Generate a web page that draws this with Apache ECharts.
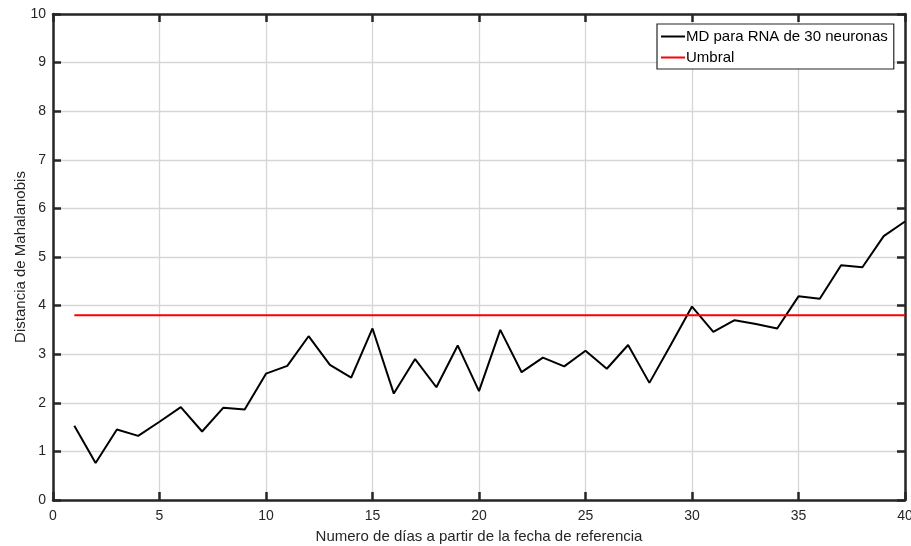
<!DOCTYPE html>
<html>
<head>
<meta charset="utf-8">
<script src="https://cdn.jsdelivr.net/npm/echarts@6/dist/echarts.min.js"></script>
<style>
  html, body { margin: 0; padding: 0; background: #ffffff; }
  #chart { width: 911px; height: 546px; }
</style>
</head>
<body>
<div id="chart"></div>
<script>
// Days since reference date
const days = [1,2,3,4,5,6,7,8,9,10,11,12,13,14,15,16,17,18,19,20,
              21,22,23,24,25,26,27,28,29,30,31,32,33,34,35,36,37,38,39,40];
// Mahalanobis distance, ANN with 30 neurons
const mdValues = [1.53,0.76,1.45,1.32,1.61,1.91,1.41,1.90,1.86,2.60,
                  2.76,3.37,2.78,2.52,3.53,2.19,2.90,2.32,3.18,2.24,
                  3.50,2.63,2.93,2.75,3.07,2.70,3.19,2.41,3.19,3.98,
                  3.46,3.70,3.62,3.53,4.19,4.14,4.83,4.79,5.43,5.73];
// Threshold level
const threshold = 3.80;

const seriesNames = ['MD para RNA de 30 neuronas', 'Umbral'];
const xAxisTitle = 'Numero de días a partir de la fecha de referencia';
const yAxisTitle = 'Distancia de Mahalanobis';

const axisColor = '#262626';
const fontFamily = 'Arial, "Liberation Sans", Helvetica, sans-serif';

const mdData = days.map((d, i) => [d, mdValues[i]]);
const thresholdData = days.map(d => [d, threshold]);

const chart = echarts.init(document.getElementById('chart'), null, { renderer: 'canvas' });

const frameAxisLine = { show: true, onZero: false, lineStyle: { color: axisColor, width: 2.5 } };
const frameTick = { show: true, inside: true, length: 8, lineStyle: { color: axisColor, width: 2.5 } };
const gridLine = { show: true, lineStyle: { color: '#d6d6d6', width: 1.3 } };

chart.setOption({
  animation: false,
  backgroundColor: '#ffffff',
  grid: { left: 53, right: 6, top: 14, bottom: 46, containLabel: false, outerBoundsMode: 'none' },
  legend: {
    data: seriesNames,
    orient: 'vertical',
    left: 657,
    top: 24,
    padding: [5, 6, 4, 4],
    itemGap: 6,
    itemWidth: 24,
    itemHeight: 2,
    icon: 'rect',
    backgroundColor: '#ffffff',
    borderColor: axisColor,
    borderWidth: 1.2,
    borderRadius: 0,
    align: 'left',
    textStyle: { color: '#000000', fontSize: 15, fontFamily: fontFamily, padding: [0, 0, 0, -4] }
  },
  xAxis: [
    {
      type: 'value', position: 'bottom', min: 0, max: 40, interval: 5,
      name: xAxisTitle, nameLocation: 'middle', nameGap: 29, nameMoveOverlap: false,
      nameTextStyle: { color: axisColor, fontSize: 15, fontFamily: fontFamily },
      axisLine: frameAxisLine, axisTick: frameTick,
      axisLabel: { color: axisColor, fontSize: 14, fontFamily: fontFamily, margin: 9 },
      splitLine: gridLine
    },
    {
      type: 'value', position: 'top', min: 0, max: 40, interval: 5,
      axisLine: frameAxisLine, axisTick: frameTick,
      axisLabel: { show: false }, splitLine: { show: false }
    }
  ],
  yAxis: [
    {
      type: 'value', position: 'left', min: 0, max: 10, interval: 1,
      name: yAxisTitle, nameLocation: 'middle', nameGap: 25, nameMoveOverlap: false,
      nameTextStyle: { color: axisColor, fontSize: 15, fontFamily: fontFamily },
      axisLine: frameAxisLine, axisTick: frameTick,
      axisLabel: { color: axisColor, fontSize: 14, fontFamily: fontFamily, margin: 7 },
      splitLine: gridLine
    },
    {
      type: 'value', position: 'right', min: 0, max: 10, interval: 1,
      axisLine: frameAxisLine, axisTick: frameTick,
      axisLabel: { show: false }, splitLine: { show: false }
    }
  ],
  series: [
    {
      name: seriesNames[0], type: 'line', xAxisIndex: 0, yAxisIndex: 0,
      data: mdData, symbol: 'none', showSymbol: false,
      lineStyle: { color: '#000000', width: 2 }, itemStyle: { color: '#000000' },
      z: 3
    },
    {
      name: seriesNames[1], type: 'line', xAxisIndex: 0, yAxisIndex: 0,
      data: thresholdData, symbol: 'none', showSymbol: false,
      lineStyle: { color: '#ff0000', width: 2 }, itemStyle: { color: '#ff0000' },
      z: 4
    }
  ]
});
</script>
</body>
</html>
